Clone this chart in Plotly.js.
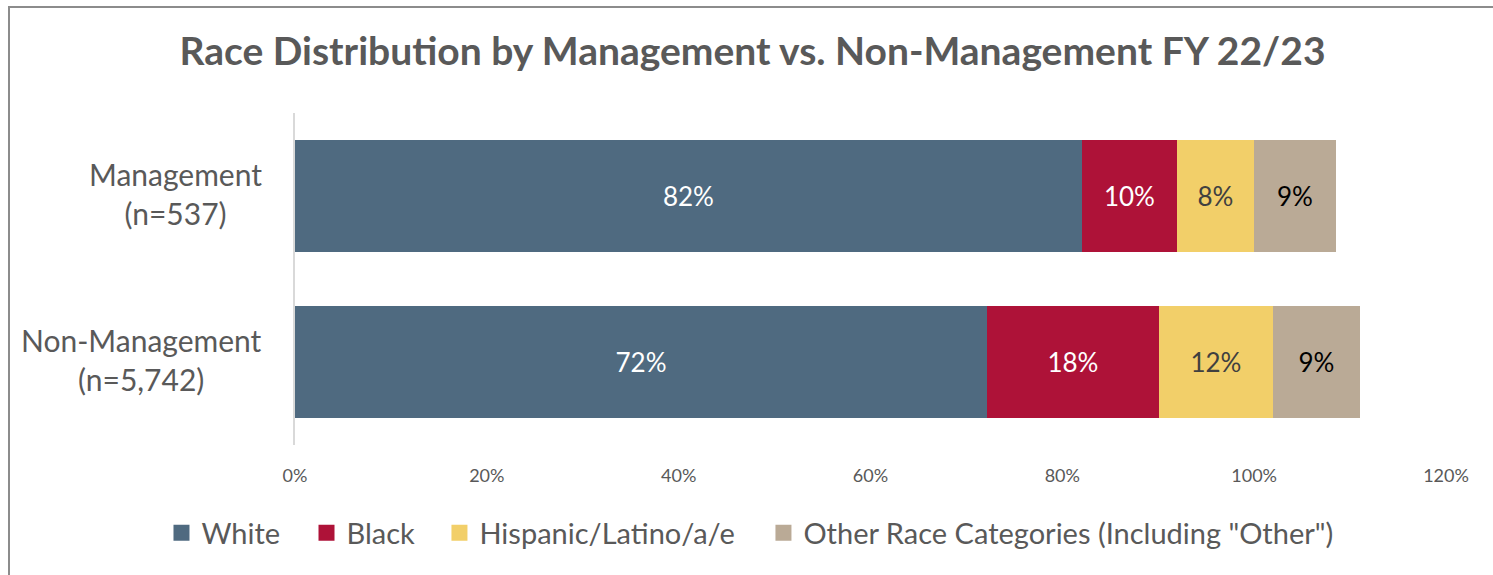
<!DOCTYPE html>
<html>
<head>
<meta charset="utf-8">
<script src="https://cdn.plot.ly/plotly-3.0.1.min.js"></script>
<style>
  html, body { margin: 0; padding: 0; background: #fff; }
  #chart { width: 1493px; height: 575px; }
  #frame { position: absolute; left: 8px; top: 6px; width: 1500px; height: 600px; border: 2px solid #8c8c8c; pointer-events: none; box-sizing: border-box; }
</style>
</head>
<body>
<div id="chart"></div>
<div id="frame"></div>
<script>
const categories = ["Management", "Non-Management"];
const categoryLabels = ["Management<br>(n=537)", "Non-Management<br>(n=5,742)"];
const seriesNames = ["White", "Black", "Hispanic/Latino/a/e", "Other Race Categories (Including \"Other\")"];
const white = [0.8204, 0.7214];
const black = [0.0990, 0.1793];
const hispanic = [0.0803, 0.1188];
const other = [0.0855, 0.0907];
const colors = ["#4F6A80", "#AE1238", "#F2CF69", "#BAAA96"];
const textColors = ["#ffffff", "#ffffff", "#404040", "#000000"];
const xTicks = [0, 0.2, 0.4, 0.6, 0.8, 1.0, 1.2];

const FONT = "Lato, 'Open Sans', sans-serif";
const seriesValues = [white, black, hispanic, other];
const legendIds = ["legend", "legend2", "legend3", "legend4"];
const legendX = [-0.1160, 0.0100, 0.1255, 0.4070];

const barTraces = seriesValues.map((vals, i) => ({
  type: "bar",
  orientation: "h",
  name: seriesNames[i],
  y: categories,
  x: vals,
  showlegend: false,
  marker: { color: colors[i], line: { width: 0 } },
  texttemplate: "%{x:.0%}",
  textposition: "inside",
  insidetextanchor: "middle",
  textangle: 0,
  constraintext: "none",
  textfont: { family: FONT, size: 26, color: textColors[i] },
  hoverinfo: "skip"
}));

// legend entries (square swatches), no data drawn
const legendTraces = seriesNames.map((n, i) => ({
  type: "scatter",
  mode: "markers",
  name: n,
  x: [null], y: [null],
  legend: legendIds[i],
  marker: { symbol: "square", size: 16, color: colors[i] },
  hoverinfo: "skip"
}));

const annotations = categories.map((c, i) => ({
  xref: "paper", yref: "y",
  x: -0.027, y: c,
  xanchor: "right", yanchor: "middle",
  align: "center",
  yshift: 3,
  text: categoryLabels[i],
  showarrow: false,
  font: { family: FONT, size: 30, color: "#595959" }
}));

const layout = {
  width: 1493, height: 575,
  margin: { l: 295, r: 47, t: 113, b: 130, autoexpand: false },
  paper_bgcolor: "#ffffff",
  plot_bgcolor: "#ffffff",
  barmode: "stack",
  bargap: 0.33,
  title: {
    text: "<b>Race Distribution by Management vs. Non-Management FY 22/23</b>",
    font: { family: FONT, size: 39, color: "#595959" },
    x: 0.504, xanchor: "center",
    y: 0.91, yanchor: "middle", yref: "container"
  },
  xaxis: {
    range: [0, 1.2],
    tickvals: xTicks,
    tickformat: ".0%",
    showgrid: false,
    zeroline: false,
    showline: false,
    ticks: "",
    ticklen: 0,
    ticklabelstandoff: 18,
    tickfont: { family: FONT, size: 18, color: "#595959" },
    fixedrange: true
  },
  yaxis: {
    type: "category",
    categoryorder: "array",
    categoryarray: categories,
    autorange: "reversed",
    showticklabels: false,
    showgrid: false,
    zeroline: false,
    showline: true,
    linecolor: "#d9d9d9",
    linewidth: 2,
    ticks: "",
    fixedrange: true
  },
  showlegend: true,
  annotations: annotations
};

legendIds.forEach((id, i) => {
  layout[id] = {
    orientation: "h",
    x: legendX[i], xanchor: "left",
    y: -0.265, yanchor: "middle",
    font: { family: FONT, size: 29, color: "#595959" },
    itemsizing: "trace",
    borderwidth: 0,
    bgcolor: "rgba(0,0,0,0)"
  };
});

Plotly.newPlot("chart", barTraces.concat(legendTraces), layout, { displayModeBar: false, staticPlot: true });
</script>
</body>
</html>
